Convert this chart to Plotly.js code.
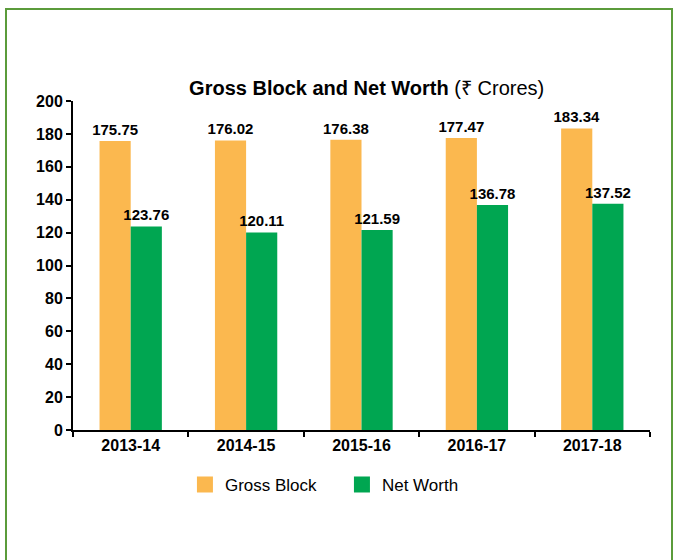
<!DOCTYPE html>
<html>
<head>
<meta charset="utf-8">
<script src="https://cdn.plot.ly/plotly-3.0.1.min.js"></script>
<style>
  html, body { margin: 0; padding: 0; background: #ffffff; }
  #frame { position: absolute; left: 5px; top: 8px; width: 664px; height: 560px;
           border-left: 2px solid #5b9b3b; border-top: 2px solid #5b9b3b; border-right: 2px solid #5b9b3b; }
  #chart { position: absolute; left: 0; top: 0; width: 674px; height: 560px; }
</style>
</head>
<body>
<div id="frame"></div>
<div id="chart"></div>
<script>
const years = ['2013-14', '2014-15', '2015-16', '2016-17', '2017-18'];
const grossBlock = [175.75, 176.02, 176.38, 177.47, 183.34];
const netWorth = [123.76, 120.11, 121.59, 136.78, 137.52];
const yTicks = [0, 20, 40, 60, 80, 100, 120, 140, 160, 180, 200];
const seriesNames = ['Gross Block', 'Net Worth'];
const seriesColors = ['#FBB84F', '#00A651'];

const labelFont = { family: 'Liberation Sans, Arial, sans-serif', size: 15, color: '#000000', weight: 'bold' };

function barTrace(name, values, color) {
  return {
    type: 'bar', name: name, x: years, y: values,
    marker: { color: color },
    text: values.map(v => '<b>' + v.toFixed(2) + '</b>'),
    textposition: 'outside', textfont: labelFont, cliponaxis: false,
    constraintext: 'none', showlegend: false, hoverinfo: 'none'
  };
}
function legendTrace(name, color) {
  return {
    type: 'scatter', mode: 'markers', name: name, x: [years[0]], y: [null],
    marker: { color: color, symbol: 'square', size: 18 },
    showlegend: true, hoverinfo: 'none'
  };
}

const traces = [
  barTrace(seriesNames[0], grossBlock, seriesColors[0]),
  barTrace(seriesNames[1], netWorth, seriesColors[1]),
  legendTrace(seriesNames[0], seriesColors[0]),
  legendTrace(seriesNames[1], seriesColors[1])
];

const layout = {
  width: 674, height: 560,
  paper_bgcolor: 'rgba(0,0,0,0)', plot_bgcolor: 'rgba(0,0,0,0)',
  margin: { l: 73, r: 24, t: 101, b: 130 },
  font: { family: 'Liberation Sans, Arial, sans-serif', color: '#000000' },
  title: {
    text: '<b>Gross Block and Net Worth</b> (₹ Crores)',
    font: { size: 20, color: '#000000' },
    xref: 'container', x: 0.544, xanchor: 'center',
    yref: 'container', y: 0.843, yanchor: 'middle'
  },
  barmode: 'group', bargap: 0.46, bargroupgap: 0,
  xaxis: {
    type: 'category',
    showline: true, linecolor: '#000000', linewidth: 2,
    ticks: 'outside', tickson: 'boundaries', ticklen: 5, tickwidth: 2, tickcolor: '#000000',
    tickfont: { size: 16, weight: 'bold' },
    showgrid: false, zeroline: false, fixedrange: true
  },
  yaxis: {
    range: [0, 200], tickvals: yTicks, ticktext: yTicks.map(String),
    showline: true, linecolor: '#000000', linewidth: 2,
    ticks: 'outside', ticklen: 5, tickwidth: 2, tickcolor: '#000000',
    tickfont: { size: 16, weight: 'bold' },
    showgrid: false, zeroline: false, fixedrange: true
  },
  showlegend: true,
  legend: {
    orientation: 'h', x: 0.194, xanchor: 'left', y: -0.167, yanchor: 'middle',
    font: { size: 17, color: '#000000' }, entrywidth: 112, entrywidthmode: 'pixels',
    itemsizing: 'trace', bgcolor: 'rgba(0,0,0,0)'
  }
};

Plotly.newPlot('chart', traces, layout, { displayModeBar: false, staticPlot: true });
</script>
</body>
</html>
